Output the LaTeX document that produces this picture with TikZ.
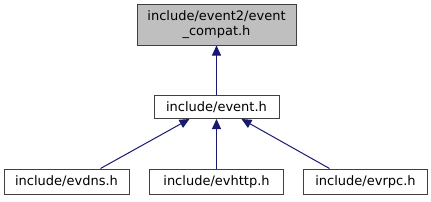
\documentclass[tikz,border=0pt]{standalone}
\usepackage{fontspec}
\setmainfont{DejaVu Sans}
\usetikzlibrary{arrows.meta,calc}
\definecolor{edgeblue}{HTML}{191970}
\definecolor{boxline}{HTML}{404040}
\definecolor{rootfill}{HTML}{BFBFBF}
\begin{document}
\begin{tikzpicture}[x=1pt,y=-1pt,
  box/.style={draw=boxline,line width=1pt,fill=white,inner sep=0pt,align=center,font=\fontsize{13}{15}\selectfont},
  edge/.style={draw=edgeblue,line width=1pt,-{Triangle[length=10pt,width=9pt]}}]
\useasboundingbox (0,0) rectangle (431,201);
\node[box,fill=rootfill,minimum width=159pt,minimum height=41pt] (top) at (216.5,24.5) {include/event2/event\\\_compat.h};
\node[box,minimum width=125pt,minimum height=23pt] (mid) at (216.5,107) {include/event.h};
\node[box,minimum width=125pt,minimum height=25pt] (dns) at (66.5,181.5) {include/evdns.h};
\node[box,minimum width=134pt,minimum height=25pt] (http) at (216.5,181.5) {include/evhttp.h};
\node[box,minimum width=124pt,minimum height=25pt] (rpc) at (365.5,181.5) {include/evrpc.h};
\draw[edge] (mid.north) -- (top.south);
\draw[edge] ($(dns.north)+(34,0)$) -- ($(mid.south)+(-27,0)$);
\draw[edge] (http.north) -- (mid.south -| http.north);
\draw[edge] ($(rpc.north)+(-36,0)$) -- ($(mid.south)+(25,0)$);
\end{tikzpicture}
\end{document}
